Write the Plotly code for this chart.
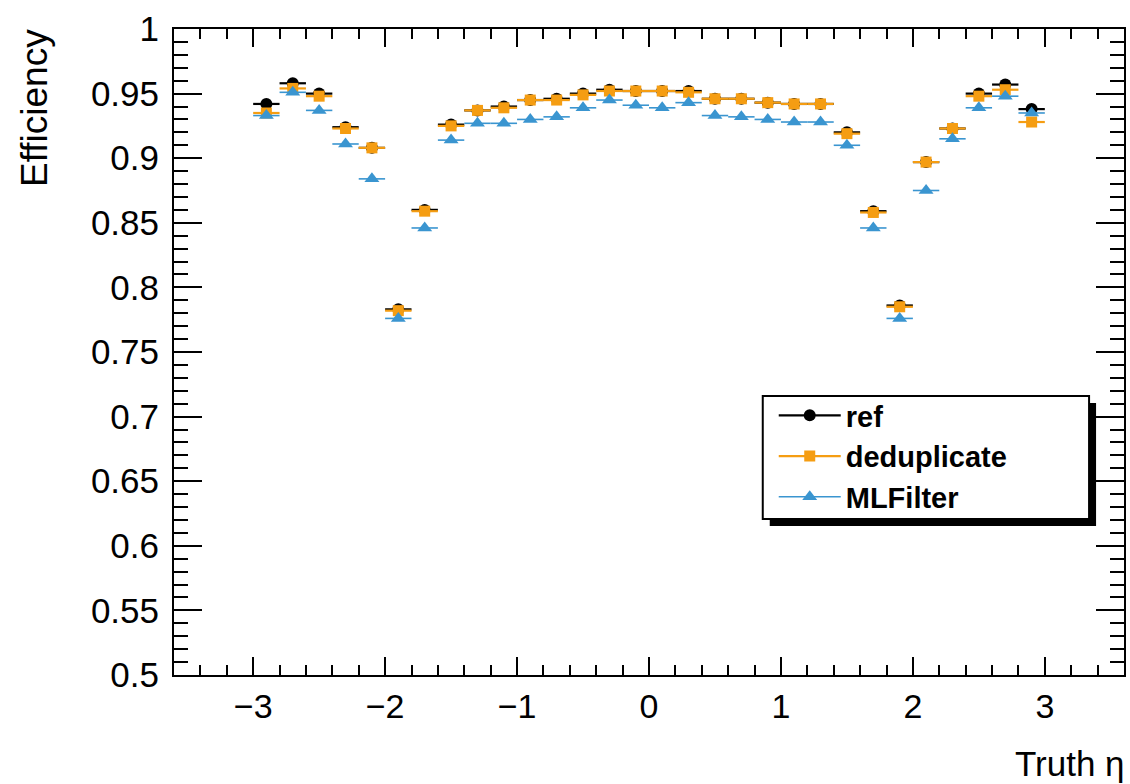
import plotly.graph_objects as go

# ---- data ----
eta = [-2.9, -2.7, -2.5, -2.3, -2.1, -1.9, -1.7, -1.5, -1.3, -1.1,
       -0.9, -0.7, -0.5, -0.3, -0.1, 0.1, 0.3, 0.5, 0.7, 0.9,
       1.1, 1.3, 1.5, 1.7, 1.9, 2.1, 2.3, 2.5, 2.7, 2.9]
half_bin = [0.1] * len(eta)

eff_ref = [0.942, 0.958, 0.950, 0.924, 0.908, 0.783, 0.860, 0.926, 0.937, 0.940,
           0.945, 0.946, 0.950, 0.953, 0.952, 0.952, 0.952, 0.946, 0.946, 0.943,
           0.942, 0.942, 0.920, 0.859, 0.786, 0.897, 0.923, 0.950, 0.957, 0.938]
eff_dedup = [0.935, 0.954, 0.948, 0.923, 0.908, 0.782, 0.859, 0.925, 0.937, 0.939,
             0.945, 0.945, 0.949, 0.952, 0.952, 0.952, 0.951, 0.946, 0.946, 0.943,
             0.942, 0.942, 0.919, 0.858, 0.785, 0.897, 0.923, 0.948, 0.953, 0.928]
eff_ml = [0.933, 0.951, 0.937, 0.911, 0.884, 0.776, 0.846, 0.914, 0.927, 0.927,
          0.930, 0.932, 0.939, 0.945, 0.941, 0.939, 0.943, 0.933, 0.932, 0.930,
          0.928, 0.928, 0.910, 0.846, 0.776, 0.875, 0.915, 0.939, 0.948, 0.935]
err_y = [0.0015] * len(eta)

series = [
    ("ref", eff_ref, "#000000", "circle", 12, 2.2),
    ("deduplicate", eff_dedup, "#f59d12", "square", 11, 2.2),
    ("MLFilter", eff_ml, "#3a95d0", "triangle-up", 13, 1.6),
]

y_tickvals = [0.5, 0.55, 0.6, 0.65, 0.7, 0.75, 0.8, 0.85, 0.9, 0.95, 1.0]
y_ticktext = ["0.5", "0.55", "0.6", "0.65", "0.7", "0.75", "0.8", "0.85", "0.9", "0.95", "1"]

FONT = "Liberation Sans"

fig = go.Figure()
for name, vals, col, sym, size, lw in series:
    fig.add_trace(go.Scatter(
        x=eta, y=vals, mode="markers", name=name, showlegend=False,
        marker=dict(color=col, symbol=sym, size=size, line=dict(width=0)),
        error_x=dict(type="data", array=half_bin, color=col, thickness=lw, width=0),
        error_y=dict(type="data", array=err_y, color=col, thickness=lw, width=0),
    ))
for name, vals, col, sym, size, lw in series:
    fig.add_trace(go.Scatter(
        x=[None], y=[None], mode="lines+markers", name=name, showlegend=True,
        marker=dict(color=col, symbol=sym, size=size, line=dict(width=0)),
        line=dict(color=col, width=lw),
    ))

W, H = 1130, 784
L, R, T, B = 174, 4, 29, 109
pw, ph = W - L - R, H - T - B


def px2paper(px, py):
    return (px - L) / pw, (H - B - py) / ph


# legend box with shadow
sx0, sy0 = px2paper(771, 526)
sx1, sy1 = px2paper(1098, 403)
bx0, by0 = px2paper(764, 519)
bx1, by1 = px2paper(1091, 396)
fig.add_shape(type="rect", xref="paper", yref="paper", x0=sx0, y0=sy0, x1=sx1, y1=sy1,
              fillcolor="black", line=dict(width=0), layer="above")
fig.add_shape(type="rect", xref="paper", yref="paper", x0=bx0, y0=by0, x1=bx1, y1=by1,
              fillcolor="white", line=dict(color="black", width=2), layer="above")

lx, ly = px2paper(775, 390)
fig.update_layout(
    width=W, height=H,
    margin=dict(l=L, r=R, t=T, b=B),
    plot_bgcolor="white", paper_bgcolor="white",
    font=dict(family=FONT, color="black"),
    legend=dict(x=lx, y=ly, xanchor="left", yanchor="top",
                bgcolor="rgba(0,0,0,0)", borderwidth=0,
                font=dict(family=FONT, size=29, weight="bold", color="black"),
                itemwidth=62),
    xaxis=dict(range=[-3.6, 3.6], tick0=0, dtick=1, ticks="inside", ticklen=18,
               tickwidth=2, tickcolor="black", showline=True, linecolor="black",
               linewidth=2, mirror="ticks", showgrid=False, zeroline=False,
               tickfont=dict(family=FONT, size=34),
               minor=dict(dtick=0.2, ticks="inside", ticklen=10, tickwidth=2,
                          tickcolor="black", showgrid=False)),
    yaxis=dict(range=[0.5, 1.0], tickvals=y_tickvals, ticktext=y_ticktext,
               ticks="inside", ticklen=28, tickwidth=2, tickcolor="black",
               showline=True, linecolor="black", linewidth=2, mirror="ticks",
               showgrid=False, zeroline=False, ticklabelstandoff=6,
               tickfont=dict(family=FONT, size=35),
               minor=dict(dtick=0.01, tick0=0.5, ticks="inside", ticklen=14, tickwidth=2,
                          tickcolor="black", showgrid=False)),
)

fig.add_annotation(text="Efficiency", xref="paper", yref="paper", x=0, y=1,
                   xanchor="center", yanchor="top", xshift=-140, yshift=2,
                   textangle=-90, showarrow=False,
                   font=dict(family=FONT, size=37, color="black"))
fig.add_annotation(text="Truth η", xref="paper", yref="paper", x=1, y=0,
                   xanchor="right", yanchor="middle", xshift=3, yshift=-88,
                   showarrow=False, font=dict(family=FONT, size=35, color="black"))

fig.write_html("out.html")
